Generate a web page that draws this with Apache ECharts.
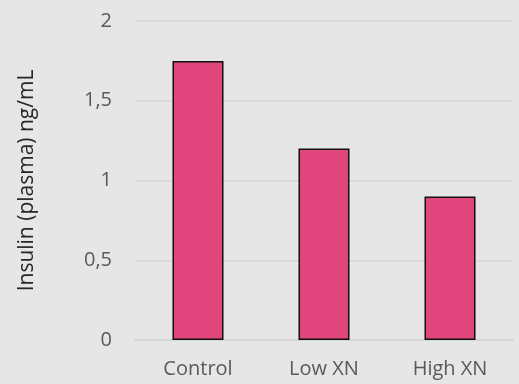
<!DOCTYPE html>
<html>
<head>
<meta charset="utf-8">
<script src="https://cdn.jsdelivr.net/npm/echarts@6/dist/echarts.min.js"></script>
<style>
  html, body { margin: 0; padding: 0; background: #e6e6e6; }
  #chart { width: 519px; height: 384px; }
</style>
</head>
<body>
<div id="chart"></div>
<script>
// groups on x axis
const groups = ['Control', 'Low XN', 'High XN']
// insulin values ng/mL
const insulin = [1.75, 1.2, 0.9]
const yTitle = 'Insulin (plasma) ng/mL'

const chart = echarts.init(document.getElementById('chart'))
const font = '"Open Sans", sans-serif'

const option = {
  backgroundColor: '#e6e6e6',
  animation: false,
  grid: { left: 135, right: 6, top: 21, bottom: 44 },
  xAxis: {
    type: 'category',
    data: groups,
    axisLine: { lineStyle: { color: '#d4d4d4', width: 1.5 } },
    axisTick: { show: false },
    axisLabel: { color: '#595959', fontSize: 20, fontFamily: font, margin: 19 }
  },
  yAxis: {
    type: 'value',
    min: 0,
    max: 2,
    interval: 0.5,
    name: yTitle,
    nameLocation: 'middle',
    nameGap: 97,
    nameRotate: 90,
    nameTextStyle: { color: '#262626', fontSize: 21, fontFamily: font },
    axisLine: { show: false },
    axisTick: { show: false },
    axisLabel: {
      color: '#595959', fontSize: 20, fontFamily: font, margin: 23,
      formatter: v => String(v).replace('.', ',')
    },
    splitLine: { lineStyle: { color: '#d6d6d6', width: 1.5 } }
  },
  series: [{
    type: 'bar',
    data: insulin,
    barWidth: '40.5%',
    itemStyle: { color: '#e0467c', borderColor: '#111', borderWidth: 1.5 }
  }]
}
chart.setOption(option)
</script>
</body>
</html>
